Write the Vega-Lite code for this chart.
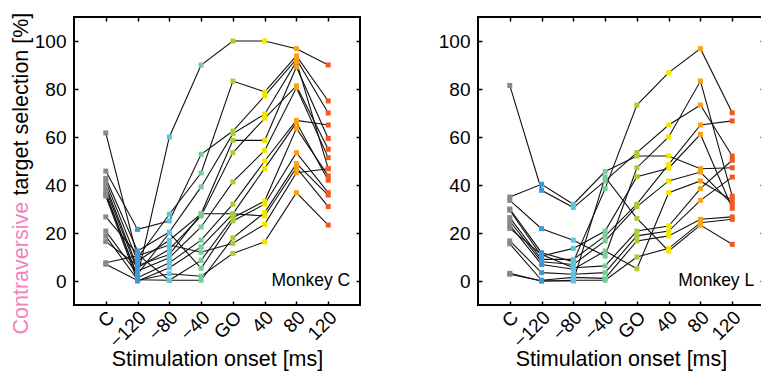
{
  "$schema": "https://vega.github.io/schema/vega-lite/v6.json",
  "autosize": {"type": "pad"},
  "padding": {"left": 9, "top": 11, "right": 0, "bottom": 0},
  "config": {
    "font": "Liberation Sans",
    "view": {"stroke": "black", "strokeWidth": 2},
    "axis": {
      "grid": false, "domain": false,
      "tickColor": "black", "tickSize": -4, "tickWidth": 1.5,
      "labelColor": "black", "labelFontSize": 19, "labelFont": "Liberation Sans",
      "titleFontSize": 21.5, "titleFontWeight": "normal", "titleColor": "black", "titleFont": "Liberation Sans"
    }
  },
  "datasets": {
    "mc": [
      {"s":1,"c":"C","v":36},{"s":1,"c":"−120","v":2},{"s":1,"c":"−80","v":60},{"s":1,"c":"−40","v":90},{"s":1,"c":"GO","v":100},{"s":1,"c":"40","v":100},{"s":1,"c":"80","v":96.8},{"s":1,"c":"120","v":90},
      {"s":2,"c":"C","v":61.7},{"s":2,"c":"−120","v":9.7},{"s":2,"c":"−80","v":27.8},{"s":2,"c":"−40","v":45},{"s":2,"c":"GO","v":83.3},{"s":2,"c":"40","v":78.8},{"s":2,"c":"80","v":93.8},{"s":2,"c":"120","v":75},
      {"s":3,"c":"C","v":45.8},{"s":3,"c":"−120","v":21.5},{"s":3,"c":"−80","v":25},{"s":3,"c":"−40","v":52.8},{"s":3,"c":"GO","v":62.5},{"s":3,"c":"40","v":77.1},{"s":3,"c":"80","v":92.4},{"s":3,"c":"120","v":70},
      {"s":4,"c":"C","v":42.8},{"s":4,"c":"−120","v":12.5},{"s":4,"c":"−80","v":20.4},{"s":4,"c":"−40","v":39.2},{"s":4,"c":"GO","v":61.4},{"s":4,"c":"40","v":69.5},{"s":4,"c":"80","v":91.4},{"s":4,"c":"120","v":46.8},
      {"s":5,"c":"C","v":41.4},{"s":5,"c":"−120","v":8.3},{"s":5,"c":"−80","v":17},{"s":5,"c":"−40","v":28},{"s":5,"c":"GO","v":58.6},{"s":5,"c":"40","v":58.6},{"s":5,"c":"80","v":89.2},{"s":5,"c":"120","v":59.4},
      {"s":6,"c":"C","v":39.6},{"s":6,"c":"−120","v":5.5},{"s":6,"c":"−80","v":13.2},{"s":6,"c":"−40","v":27.1},{"s":6,"c":"GO","v":53.5},{"s":6,"c":"40","v":67.8},{"s":6,"c":"80","v":81.3},{"s":6,"c":"120","v":54.9},
      {"s":7,"c":"C","v":38.2},{"s":7,"c":"−120","v":4.2},{"s":7,"c":"−80","v":9.7},{"s":7,"c":"−40","v":22.5},{"s":7,"c":"GO","v":41.3},{"s":7,"c":"40","v":54.4},{"s":7,"c":"80","v":80.5},{"s":7,"c":"120","v":51.4},
      {"s":8,"c":"C","v":36.8},{"s":8,"c":"−120","v":1.4},{"s":8,"c":"−80","v":7.6},{"s":8,"c":"−40","v":17},{"s":8,"c":"GO","v":32},{"s":8,"c":"40","v":50},{"s":8,"c":"80","v":66.9},{"s":8,"c":"120","v":65},
      {"s":9,"c":"C","v":35.4},{"s":9,"c":"−120","v":0},{"s":9,"c":"−80","v":5.5},{"s":9,"c":"−40","v":14.2},{"s":9,"c":"GO","v":28},{"s":9,"c":"40","v":46.9},{"s":9,"c":"80","v":66},{"s":9,"c":"120","v":42},
      {"s":10,"c":"C","v":26.7},{"s":10,"c":"−120","v":11.1},{"s":10,"c":"−80","v":0.3},{"s":10,"c":"−40","v":8.6},{"s":10,"c":"GO","v":26.4},{"s":10,"c":"40","v":33.3},{"s":10,"c":"80","v":63.6},{"s":10,"c":"120","v":43.8},
      {"s":11,"c":"C","v":20.8},{"s":11,"c":"−120","v":2.8},{"s":11,"c":"−80","v":20.1},{"s":11,"c":"−40","v":5.3},{"s":11,"c":"GO","v":25},{"s":11,"c":"40","v":32},{"s":11,"c":"80","v":53.5},{"s":11,"c":"120","v":36.8},
      {"s":12,"c":"C","v":18.7},{"s":12,"c":"−120","v":0.5},{"s":12,"c":"−80","v":0.3},{"s":12,"c":"−40","v":0.3},{"s":12,"c":"GO","v":18},{"s":12,"c":"40","v":28.5},{"s":12,"c":"80","v":48.9},{"s":12,"c":"120","v":35.8},
      {"s":13,"c":"C","v":16.4},{"s":13,"c":"−120","v":6.5},{"s":13,"c":"−80","v":11},{"s":13,"c":"−40","v":28},{"s":13,"c":"GO","v":28},{"s":13,"c":"40","v":27.1},{"s":13,"c":"80","v":47.2},{"s":13,"c":"120","v":31},
      {"s":14,"c":"C","v":7.6},{"s":14,"c":"−120","v":10.5},{"s":14,"c":"−80","v":15},{"s":14,"c":"−40","v":12},{"s":14,"c":"GO","v":15.7},{"s":14,"c":"40","v":23.6},{"s":14,"c":"80","v":45.1},{"s":14,"c":"120","v":46.8},
      {"s":15,"c":"C","v":7},{"s":15,"c":"−120","v":0.2},{"s":15,"c":"−80","v":3},{"s":15,"c":"−40","v":2},{"s":15,"c":"GO","v":11.5},{"s":15,"c":"40","v":16.3},{"s":15,"c":"80","v":36.8},{"s":15,"c":"120","v":23.3}
    ],
    "ml": [
      {"s":1,"c":"C","v":81.5},{"s":1,"c":"−120","v":37.8},{"s":1,"c":"−80","v":30.6},{"s":1,"c":"−40","v":41.7},{"s":1,"c":"GO","v":53.5},{"s":1,"c":"40","v":65},{"s":1,"c":"80","v":73.3},{"s":1,"c":"120","v":52.1},
      {"s":2,"c":"C","v":35},{"s":2,"c":"−120","v":40.3},{"s":2,"c":"−80","v":32},{"s":2,"c":"−40","v":45.6},{"s":2,"c":"GO","v":52.1},{"s":2,"c":"40","v":52.1},{"s":2,"c":"80","v":46.8},{"s":2,"c":"120","v":47.2},
      {"s":3,"c":"C","v":33.6},{"s":3,"c":"−120","v":21.8},{"s":3,"c":"−80","v":17},{"s":3,"c":"−40","v":10.4},{"s":3,"c":"GO","v":47.2},{"s":3,"c":"40","v":60},{"s":3,"c":"80","v":83.3},{"s":3,"c":"120","v":35.4},
      {"s":4,"c":"C","v":30},{"s":4,"c":"−120","v":11.8},{"s":4,"c":"−80","v":8},{"s":4,"c":"−40","v":38.5},{"s":4,"c":"GO","v":73.3},{"s":4,"c":"40","v":86.8},{"s":4,"c":"80","v":96.8},{"s":4,"c":"120","v":70.1},
      {"s":5,"c":"C","v":29.5},{"s":5,"c":"−120","v":10.4},{"s":5,"c":"−80","v":13.6},{"s":5,"c":"−40","v":20.8},{"s":5,"c":"GO","v":43.5},{"s":5,"c":"40","v":47},{"s":5,"c":"80","v":61.1},{"s":5,"c":"120","v":30.3},
      {"s":6,"c":"C","v":26.4},{"s":6,"c":"−120","v":9},{"s":6,"c":"−80","v":9},{"s":6,"c":"−40","v":18.8},{"s":6,"c":"GO","v":32},{"s":6,"c":"40","v":48.6},{"s":6,"c":"80","v":65},{"s":6,"c":"120","v":66.7},
      {"s":7,"c":"C","v":25},{"s":7,"c":"−120","v":8},{"s":7,"c":"−80","v":6.9},{"s":7,"c":"−40","v":16.7},{"s":7,"c":"GO","v":31},{"s":7,"c":"40","v":41.7},{"s":7,"c":"80","v":45.4},{"s":7,"c":"120","v":32},
      {"s":8,"c":"C","v":23.3},{"s":8,"c":"−120","v":6.9},{"s":8,"c":"−80","v":4.9},{"s":8,"c":"−40","v":12.5},{"s":8,"c":"GO","v":5.1},{"s":8,"c":"40","v":36.8},{"s":8,"c":"80","v":41.7},{"s":8,"c":"120","v":33.6},
      {"s":9,"c":"C","v":21.9},{"s":9,"c":"−120","v":11},{"s":9,"c":"−80","v":5.5},{"s":9,"c":"−40","v":6.3},{"s":9,"c":"GO","v":20.8},{"s":9,"c":"40","v":22.9},{"s":9,"c":"80","v":38.5},{"s":9,"c":"120","v":50.3},
      {"s":10,"c":"C","v":16.7},{"s":10,"c":"−120","v":3.5},{"s":10,"c":"−80","v":2.8},{"s":10,"c":"−40","v":3.5},{"s":10,"c":"GO","v":18.8},{"s":10,"c":"40","v":20.8},{"s":10,"c":"80","v":33.6},{"s":10,"c":"120","v":43.3},
      {"s":11,"c":"C","v":15.5},{"s":11,"c":"−120","v":0.3},{"s":11,"c":"−80","v":1.5},{"s":11,"c":"−40","v":1.1},{"s":11,"c":"GO","v":16.7},{"s":11,"c":"40","v":18.8},{"s":11,"c":"80","v":25.7},{"s":11,"c":"120","v":26.7},
      {"s":12,"c":"C","v":3.2},{"s":12,"c":"−120","v":0},{"s":12,"c":"−80","v":0.3},{"s":12,"c":"−40","v":0.3},{"s":12,"c":"GO","v":10},{"s":12,"c":"40","v":13.6},{"s":12,"c":"80","v":24.3},{"s":12,"c":"120","v":25.7},
      {"s":13,"c":"C","v":2.8},{"s":13,"c":"−120","v":0},{"s":13,"c":"−80","v":0},{"s":13,"c":"−40","v":43.3},{"s":13,"c":"GO","v":26.1},{"s":13,"c":"40","v":12.5},{"s":13,"c":"80","v":23.3},{"s":13,"c":"120","v":15.3}
    ]
  },
  "spacing": 75,
  "hconcat": [
    {
      "width": 286, "height": 288,
      "data": {"name": "mc"},
      "layer": [
        {
          "mark": {"type": "line", "color": "#111111", "strokeWidth": 1.1},
          "encoding": {
            "x": {"field": "c", "type": "ordinal", "sort": ["C","−120","−80","−40","GO","40","80","120"], "scale": {"type": "point", "padding": 1},
                  "axis": {"labelAngle": -45, "labelAlign": "right", "labelBaseline": "middle", "labelPadding": 13, "labelOffset": 5, "title": "Stimulation onset [ms]", "titlePadding": -3}},
            "y": {"field": "v", "type": "quantitative", "scale": {"domain": [-10, 110], "nice": false, "zero": false},
                  "axis": {"values": [0,20,40,60,80,100], "labelPadding": 12, "title": "target selection [%]", "titleX": -53, "titleY": 178, "titleAlign": "left", "titleBaseline": "middle", "titleAngle": -90}},
            "detail": {"field": "s"},
            "order": {"value": null}
          }
        },
        {
          "mark": {"type": "square", "size": 25, "opacity": 1},
          "encoding": {
            "x": {"field": "c", "type": "ordinal", "sort": ["C","−120","−80","−40","GO","40","80","120"], "axis": {"orient": "top", "labels": false, "title": null}},
            "y": {"field": "v", "type": "quantitative", "axis": {"orient": "right", "labels": false, "title": null, "values": [0,20,40,60,80,100]}},
            "color": {"field": "c", "type": "nominal", "legend": null,
                      "scale": {"domain": ["C","−120","−80","−40","GO","40","80","120"], "range": ["#888888","#3a9ad9","#5ec5e0","#78cc96","#a8cc3a","#f3e500","#f7a11a","#f15a24"]}}
          }
        },
        {
          "data": {"values": [{"t": "Monkey C"}]},
          "mark": {"type": "text", "align": "right", "baseline": "middle", "fontSize": 17.5, "dx": 22, "color": "black"},
          "encoding": {
            "text": {"field": "t"},
            "x": {"datum": "120", "type": "ordinal", "axis": null},
            "y": {"datum": 0, "type": "quantitative", "axis": {"orient": "left", "labels": false, "ticks": false, "values": [], "title": "Contraversive", "titleColor": "#f27fbf", "titleX": -53, "titleY": 317, "titleAlign": "left", "titleBaseline": "middle", "titleAngle": -90}}
          }
        }
      ],
      "resolve": {"axis": {"x": "independent", "y": "independent"}}
    },
    {
      "width": 286, "height": 288,
      "data": {"name": "ml"},
      "layer": [
        {
          "mark": {"type": "line", "color": "#111111", "strokeWidth": 1.1},
          "encoding": {
            "x": {"field": "c", "type": "ordinal", "sort": ["C","−120","−80","−40","GO","40","80","120"], "scale": {"type": "point", "padding": 1},
                  "axis": {"labelAngle": -45, "labelAlign": "right", "labelBaseline": "middle", "labelPadding": 13, "labelOffset": 5, "title": "Stimulation onset [ms]", "titlePadding": -3}},
            "y": {"field": "v", "type": "quantitative", "scale": {"domain": [-10, 110], "nice": false, "zero": false},
                  "axis": {"values": [0,20,40,60,80,100], "labelPadding": 12, "title": null}},
            "detail": {"field": "s"},
            "order": {"value": null}
          }
        },
        {
          "mark": {"type": "square", "size": 25, "opacity": 1},
          "encoding": {
            "x": {"field": "c", "type": "ordinal", "sort": ["C","−120","−80","−40","GO","40","80","120"], "axis": {"orient": "top", "labels": false, "title": null}},
            "y": {"field": "v", "type": "quantitative", "axis": {"orient": "right", "labels": false, "title": null, "values": [0,20,40,60,80,100]}},
            "color": {"field": "c", "type": "nominal", "legend": null,
                      "scale": {"domain": ["C","−120","−80","−40","GO","40","80","120"], "range": ["#888888","#3a9ad9","#5ec5e0","#78cc96","#a8cc3a","#f3e500","#f7a11a","#f15a24"]}}
          }
        },
        {
          "data": {"values": [{"t": "Monkey L"}]},
          "mark": {"type": "text", "align": "right", "baseline": "middle", "fontSize": 17.5, "dx": 22, "color": "black"},
          "encoding": {
            "text": {"field": "t"},
            "x": {"datum": "120", "type": "ordinal", "axis": null},
            "y": {"datum": 0, "type": "quantitative", "axis": null}
          }
        }
      ],
      "resolve": {"axis": {"x": "independent", "y": "independent"}}
    }
  ]
}
